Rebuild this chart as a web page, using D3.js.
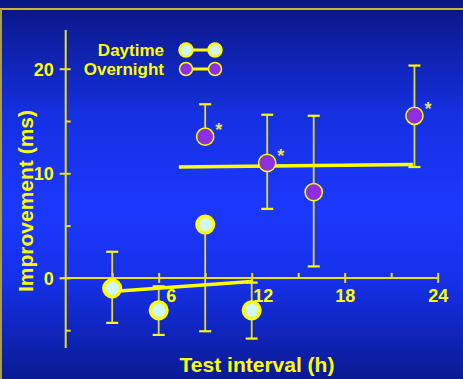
<!DOCTYPE html>
<html>
<head>
<meta charset="utf-8">
<script src="https://cdn.jsdelivr.net/npm/d3@7"></script>
<style>
  html, body { margin: 0; padding: 0; background: #0a1785; }
  svg { display: block; }
  text { font-family: "Liberation Sans", Arial, sans-serif; font-weight: bold; fill: #ffff00; }
</style>
</head>
<body>
<svg id="chart" width="463" height="379"></svg>
<script>
// Test interval (h) for each group
const dayHours = [3, 6, 9, 12];
const dayMean = [-1.0, -3.1, 5.1, -3.1];
const dayUpper = [2.5, -0.8, null, -0.45];
const dayLower = [-4.3, -5.45, -5.1, -5.8];

const nightHours = [9, 13, 16, 22.5];
const nightMean = [13.5, 11.0, 8.2, 15.5];
const nightUpper = [16.6, 15.6, 15.5, 20.3];
const nightLower = [null, 6.6, 1.1, 10.6];
const nightSignificant = [true, true, false, true];

// Regression lines (endpoints in data units)
const dayFitX = [3, 12];
const dayFitY = [-1.3, -0.35];
const nightFitX = [7.3, 22.4];
const nightFitY = [10.6, 10.85];

const xMajorTicks = [6, 12, 18, 24];
const xMinorTicks = [3, 9, 15, 21];
const yMajorTicks = [0, 10, 20];
const yMinorTicks = [-5, 5, 15];
const legendLabels = ["Daytime", "Overnight"];

const YELLOW = "#ffff00";
const DAY_FILL = "#cff8f6";
const NIGHT_FILL = "#8e2fe0";

const svg = d3.select("#chart");
const W = 463, H = 379;

// background gradient
const defs = svg.append("defs");
const grad = defs.append("linearGradient").attr("id", "bg").attr("x1", 0).attr("y1", 0).attr("x2", 0).attr("y2", 1);
grad.append("stop").attr("offset", "0%").attr("stop-color", "#0a1683");
grad.append("stop").attr("offset", "30%").attr("stop-color", "#1530e0");
grad.append("stop").attr("offset", "55%").attr("stop-color", "#1c38ff");
grad.append("stop").attr("offset", "75%").attr("stop-color", "#1530e6");
grad.append("stop").attr("offset", "100%").attr("stop-color", "#0a1a92");
svg.append("rect").attr("width", W).attr("height", H).attr("fill", "url(#bg)");

// frame lines
svg.append("line").attr("x1", 0).attr("x2", W).attr("y1", 9).attr("y2", 9)
  .attr("stroke", "#c4b63a").attr("stroke-width", 2);
svg.append("line").attr("x1", 1).attr("x2", 1).attr("y1", 9).attr("y2", H)
  .attr("stroke", "#a8a048").attr("stroke-width", 2);

const x = d3.scaleLinear().domain([0, 24]).range([65.7, 437.7]);
const y = d3.scaleLinear().domain([-6.7, 23.7]).range([348, 30]);

const axisColor = "#e8e020";

// y axis
const gy = svg.append("g").attr("transform", `translate(${x(0)},0)`);
gy.append("line").attr("x1", 0).attr("x2", 0).attr("y1", y.range()[0]).attr("y2", y.range()[1])
  .attr("stroke", axisColor).attr("stroke-width", 2);
const yMajor = gy.append("g").call(d3.axisLeft(y).tickValues(yMajorTicks).tickSize(5).tickFormat(d3.format("d")));
yMajor.select(".domain").remove();
yMajor.selectAll(".tick line").attr("x1", -6).attr("x2", 5).attr("stroke", axisColor).attr("stroke-width", 2);
yMajor.selectAll(".tick text").attr("x", -12).attr("dy", "0.36em")
  .style("font-size", "18px").style("font-family", "Liberation Sans, Arial, sans-serif")
  .style("font-weight", "bold").attr("fill", YELLOW);
const yMinor = gy.append("g").call(d3.axisRight(y).tickValues(yMinorTicks).tickSize(5).tickFormat(""));
yMinor.select(".domain").remove();
yMinor.selectAll(".tick line").attr("stroke", axisColor).attr("stroke-width", 2);

// x axis
const gx = svg.append("g").attr("transform", `translate(0,${y(0)})`);
gx.append("line").attr("x1", x(0) - 6).attr("x2", x(24)).attr("y1", 0).attr("y2", 0)
  .attr("stroke", axisColor).attr("stroke-width", 2);
const xMajor = gx.append("g").call(d3.axisBottom(x).tickValues(xMajorTicks).tickSize(5).tickFormat(d3.format("d")));
xMajor.select(".domain").remove();
xMajor.selectAll(".tick line").attr("y1", -5).attr("y2", 5).attr("stroke", axisColor).attr("stroke-width", 2);
xMajor.selectAll(".tick text").attr("y", 24).attr("dy", 0)
  .attr("dx", d => (d === 6 ? 12 : d === 12 ? 11 : 0))
  .style("font-size", "18px").style("font-family", "Liberation Sans, Arial, sans-serif")
  .style("font-weight", "bold").attr("fill", YELLOW);
const xMinor = gx.append("g").call(d3.axisTop(x).tickValues(xMinorTicks).tickSize(5).tickFormat(""));
xMinor.select(".domain").remove();
xMinor.selectAll(".tick line").attr("stroke", axisColor).attr("stroke-width", 2);

// axis titles
svg.append("text").attr("x", 257).attr("y", 372).attr("text-anchor", "middle")
  .style("font-size", "21px").text("Test interval (h)");
svg.append("text").attr("transform", "translate(33,201) rotate(-90)").attr("text-anchor", "middle")
  .style("font-size", "21px").text("Improvement (ms)");

const dayData = dayHours.map((h, i) => ({ h, m: dayMean[i], up: dayUpper[i], lo: dayLower[i] }));
const nightData = nightHours.map((h, i) => ({ h, m: nightMean[i], up: nightUpper[i], lo: nightLower[i], sig: nightSignificant[i] }));

function errorBars(data) {
  const g = svg.append("g").attr("stroke", "#e6dc28").attr("stroke-width", 1.8).attr("fill", "none");
  data.forEach(d => {
    const cx = x(d.h);
    const top = d.up == null ? d.m : d.up;
    const bot = d.lo == null ? d.m : d.lo;
    g.append("line").attr("x1", cx).attr("x2", cx).attr("y1", y(top)).attr("y2", y(bot));
    if (d.up != null) g.append("line").attr("x1", cx - 6).attr("x2", cx + 6).attr("y1", y(d.up)).attr("y2", y(d.up)).attr("stroke", YELLOW).attr("stroke-width", 2.2);
    if (d.lo != null) g.append("line").attr("x1", cx - 6).attr("x2", cx + 6).attr("y1", y(d.lo)).attr("y2", y(d.lo)).attr("stroke", YELLOW).attr("stroke-width", 2.2);
  });
}
errorBars(dayData);
errorBars(nightData);

// regression lines
const line = d3.line().x(d => x(d[0])).y(d => y(d[1]));
svg.append("path").attr("d", line(dayFitX.map((v, i) => [v, dayFitY[i]])))
  .attr("stroke", YELLOW).attr("stroke-width", 3.5).attr("fill", "none");
svg.append("path").attr("d", line(nightFitX.map((v, i) => [v, nightFitY[i]])))
  .attr("stroke", YELLOW).attr("stroke-width", 3.5).attr("fill", "none");

// points
svg.append("g").selectAll("circle").data(dayData).join("circle")
  .attr("cx", d => x(d.h)).attr("cy", d => y(d.m)).attr("r", 8.3)
  .attr("fill", DAY_FILL).attr("stroke", YELLOW).attr("stroke-width", 3.5);
svg.append("g").selectAll("circle").data(nightData).join("circle")
  .attr("cx", d => x(d.h)).attr("cy", d => y(d.m)).attr("r", 8.6)
  .attr("fill", NIGHT_FILL).attr("stroke", YELLOW).attr("stroke-width", 1.5);

// significance markers
svg.append("g").selectAll("text").data(nightData.filter(d => d.sig)).join("text")
  .attr("x", d => x(d.h) + 10).attr("y", d => y(d.m) - 1)
  .style("font-size", "18px").style("fill", "#e8e060").text("*");

// legend
const legend = svg.append("g");
const legendRows = [
  { label: legendLabels[0], fill: DAY_FILL, sw: 2.5, cy: 50 },
  { label: legendLabels[1], fill: NIGHT_FILL, sw: 1.5, cy: 69 }
];
legendRows.forEach(r => {
  legend.append("text").attr("x", 164).attr("y", r.cy + 6).attr("text-anchor", "end")
    .style("font-size", "17px").text(r.label);
  legend.append("line").attr("x1", 186).attr("x2", 215).attr("y1", r.cy).attr("y2", r.cy)
    .attr("stroke", YELLOW).attr("stroke-width", 3);
  [186, 215].forEach(cx => legend.append("circle").attr("cx", cx).attr("cy", r.cy).attr("r", 6.5)
    .attr("fill", r.fill).attr("stroke", YELLOW).attr("stroke-width", r.sw));
});
</script>
</body>
</html>
